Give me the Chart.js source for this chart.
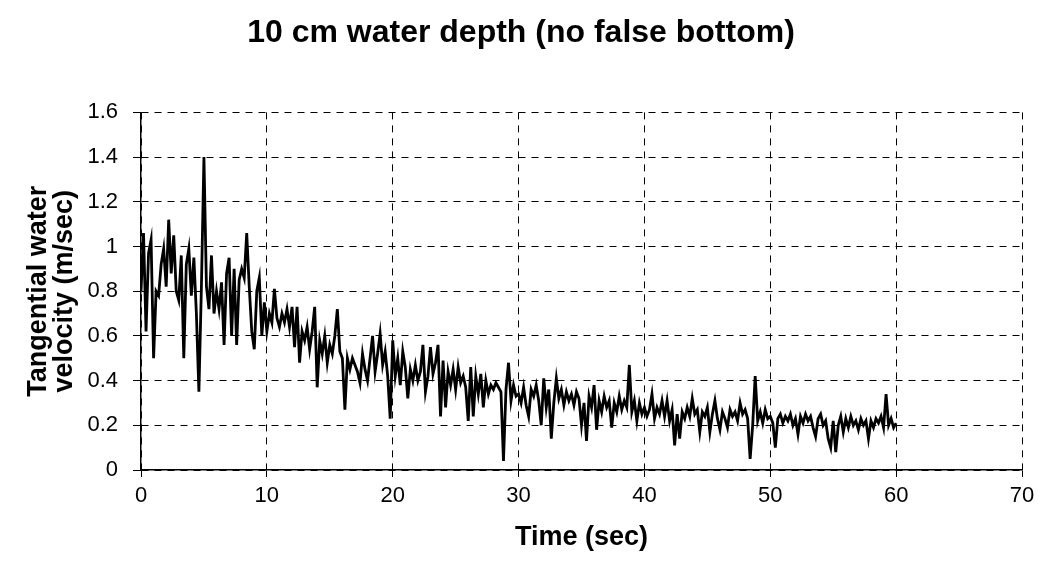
<!DOCTYPE html>
<html>
<head>
<meta charset="utf-8">
<script src="https://cdn.jsdelivr.net/npm/chart.js@4.4.1/dist/chart.umd.min.js"></script>
<style>
    html, body { margin: 0; padding: 0; background: #fff; }
    #wrap { width: 1041px; height: 569px; }
</style>
</head>
<body>
<div id="wrap"><canvas id="velocityChart"></canvas></div>
<script>
// Sampling of the record (seconds between readings)
const startTime = 0;
const sampleStep = 0.2;

// Tangential water velocity (m/sec), 5 readings per second
const velocity = [
    0.80, 1.06, 0.62, 0.97, 1.03,   // 0 s
    0.50, 0.80, 0.78, 0.92, 0.99,   // 1
    0.82, 1.12, 0.88, 1.05, 0.80,   // 2
    0.76, 0.96, 0.50, 0.92, 0.99,   // 3
    0.78, 0.95, 0.70, 0.35, 0.82,   // 4
    1.40, 0.82, 0.72, 0.96, 0.70,   // 5
    0.80, 0.72, 0.84, 0.56, 0.88,   // 6
    0.95, 0.60, 0.90, 0.56, 0.85,   // 7
    0.90, 0.86, 1.06, 0.82, 0.62,   // 8
    0.54, 0.80, 0.86, 0.60, 0.75,   // 9
    0.62, 0.70, 0.66, 0.81, 0.68,   // 10
    0.64, 0.70, 0.66, 0.72, 0.64,   // 11
    0.73, 0.55, 0.73, 0.48, 0.62,   // 12
    0.58, 0.64, 0.54, 0.62, 0.73,   // 13
    0.37, 0.58, 0.52, 0.60, 0.48,   // 14
    0.56, 0.52, 0.60, 0.72, 0.53,   // 15
    0.50, 0.27, 0.50, 0.45, 0.50,   // 16
    0.47, 0.44, 0.39, 0.52, 0.45,   // 17
    0.40, 0.50, 0.60, 0.44, 0.52,   // 18
    0.61, 0.47, 0.53, 0.42, 0.23,   // 19
    0.58, 0.42, 0.50, 0.38, 0.53,   // 20
    0.46, 0.32, 0.45, 0.40, 0.47,   // 21
    0.40, 0.44, 0.56, 0.35, 0.42,   // 22
    0.55, 0.43, 0.48, 0.56, 0.24,   // 23
    0.49, 0.28, 0.44, 0.38, 0.45,   // 24
    0.36, 0.46, 0.39, 0.42, 0.37,   // 25
    0.22, 0.46, 0.24, 0.42, 0.34,   // 26
    0.43, 0.28, 0.40, 0.34, 0.38,   // 27
    0.36, 0.39, 0.37, 0.35, 0.04,   // 28
    0.36, 0.48, 0.31, 0.38, 0.33,   // 29
    0.34, 0.30, 0.37, 0.29, 0.24,   // 30
    0.36, 0.33, 0.38, 0.31, 0.20,   // 31
    0.41, 0.28, 0.36, 0.14, 0.30,   // 32
    0.41, 0.32, 0.36, 0.29, 0.35,   // 33
    0.31, 0.34, 0.29, 0.35, 0.32,   // 34
    0.20, 0.30, 0.13, 0.33, 0.28,   // 35
    0.38, 0.18, 0.31, 0.26, 0.33,   // 36
    0.28, 0.31, 0.19, 0.30, 0.26,   // 37
    0.33, 0.27, 0.31, 0.28, 0.47,   // 38
    0.26, 0.31, 0.22, 0.30, 0.25,   // 39
    0.28, 0.24, 0.27, 0.34, 0.23,   // 40
    0.28, 0.25, 0.31, 0.24, 0.31,   // 41
    0.22, 0.27, 0.11, 0.25, 0.14,   // 42
    0.26, 0.23, 0.28, 0.24, 0.32,   // 43
    0.25, 0.27, 0.17, 0.26, 0.24,   // 44
    0.28, 0.17, 0.25, 0.31, 0.23,   // 45
    0.18, 0.26, 0.23, 0.19, 0.27,   // 46
    0.24, 0.26, 0.22, 0.30, 0.25,   // 47
    0.27, 0.23, 0.05, 0.20, 0.42,   // 48
    0.22, 0.26, 0.21, 0.27, 0.23,   // 49
    0.24, 0.21, 0.10, 0.23, 0.25,   // 50
    0.21, 0.24, 0.22, 0.25, 0.20,   // 51
    0.23, 0.16, 0.24, 0.21, 0.25,   // 52
    0.22, 0.24, 0.19, 0.15, 0.23,   // 53
    0.25, 0.20, 0.22, 0.14, 0.10,   // 54
    0.22, 0.08, 0.20, 0.24, 0.17,   // 55
    0.23, 0.19, 0.24, 0.20, 0.22,   // 56
    0.18, 0.23, 0.20, 0.22, 0.14,   // 57
    0.22, 0.19, 0.23, 0.21, 0.24,   // 58
    0.19, 0.34, 0.20, 0.23, 0.19,   // 59
    0.21                            // 60
];

// Axis ranges and labels
const timeTicks = { min: 0, max: 70, step: 10 };
const velocityTicks = { min: 0, max: 1.6, step: 0.2 };
const chartTitle = '10 cm water depth (no false bottom)';
const xTitle = 'Time (sec)';
const yTitle = ['Tangential water', 'velocity (m/sec)'];

const FONT = '"Liberation Sans", Arial, Helvetica, sans-serif';

// grid lines dashed, the axis line itself solid
const gridDash = ctx => (ctx.type === 'tick' ? [7, 6] : []);

function createVelocityChart() {
    const points = velocity.map((v, i) => ({ x: startTime + i * sampleStep, y: v }));

    new Chart(document.getElementById('velocityChart'), {
        type: 'line',
        data: {
            datasets: [{
                data: points,
                borderColor: '#000',
                borderWidth: 2.8,
                pointRadius: 0,
                tension: 0,
                fill: false
            }]
        },
        options: {
            responsive: true,
            maintainAspectRatio: false,
            animation: false,
            layout: {
                padding: { left: 10, right: 9, top: 0, bottom: 0 }
            },
            plugins: {
                legend: { display: false },
                tooltip: { enabled: false },
                title: {
                    display: true,
                    text: chartTitle,
                    color: '#000',
                    font: { family: FONT, size: 32, weight: 'bold', lineHeight: 1.2 },
                    padding: { top: 14, bottom: 60 }
                }
            },
            scales: {
                x: {
                    type: 'linear',
                    min: timeTicks.min,
                    max: timeTicks.max,
                    afterFit: scale => { scale.height = 99; },
                    ticks: {
                        stepSize: timeTicks.step,
                        color: '#000',
                        padding: 6,
                        font: { family: FONT, size: 22 }
                    },
                    grid: {
                        color: '#000',
                        lineWidth: 1,
                        tickLength: 7,
                        tickColor: '#000'
                    },
                    border: { color: '#000', width: 1.5, dash: gridDash },
                    title: {
                        display: true,
                        text: xTitle,
                        color: '#000',
                        font: { family: FONT, size: 27, weight: 'bold', lineHeight: 1.2 },
                        padding: { top: 4, bottom: 15 }
                    }
                },
                y: {
                    min: velocityTicks.min,
                    max: velocityTicks.max,
                    afterFit: scale => { scale.width = 131; },
                    ticks: {
                        stepSize: velocityTicks.step,
                        color: '#000',
                        padding: 15,
                        font: { family: FONT, size: 22 },
                        callback: value => String(Number(value.toFixed(1)))
                    },
                    grid: {
                        color: '#000',
                        lineWidth: 1,
                        tickLength: 8,
                        tickColor: '#000'
                    },
                    border: { color: '#000', width: 1.5, dash: gridDash },
                    title: {
                        display: true,
                        text: yTitle,
                        color: '#000',
                        font: { family: FONT, size: 27, weight: 'bold', lineHeight: 0.95 },
                        padding: { top: 16, bottom: 0 }
                    }
                },
                // empty right-hand gutter so the plot ends at 70 s where the original does
                gutter: {
                    position: 'right',
                    display: true,
                    afterFit: scale => { scale.width = 10; },
                    grid: { display: false },
                    border: { display: false },
                    ticks: { display: false }
                }
            }
        }
    });
}

document.addEventListener('DOMContentLoaded', createVelocityChart);
</script>
</body>
</html>
